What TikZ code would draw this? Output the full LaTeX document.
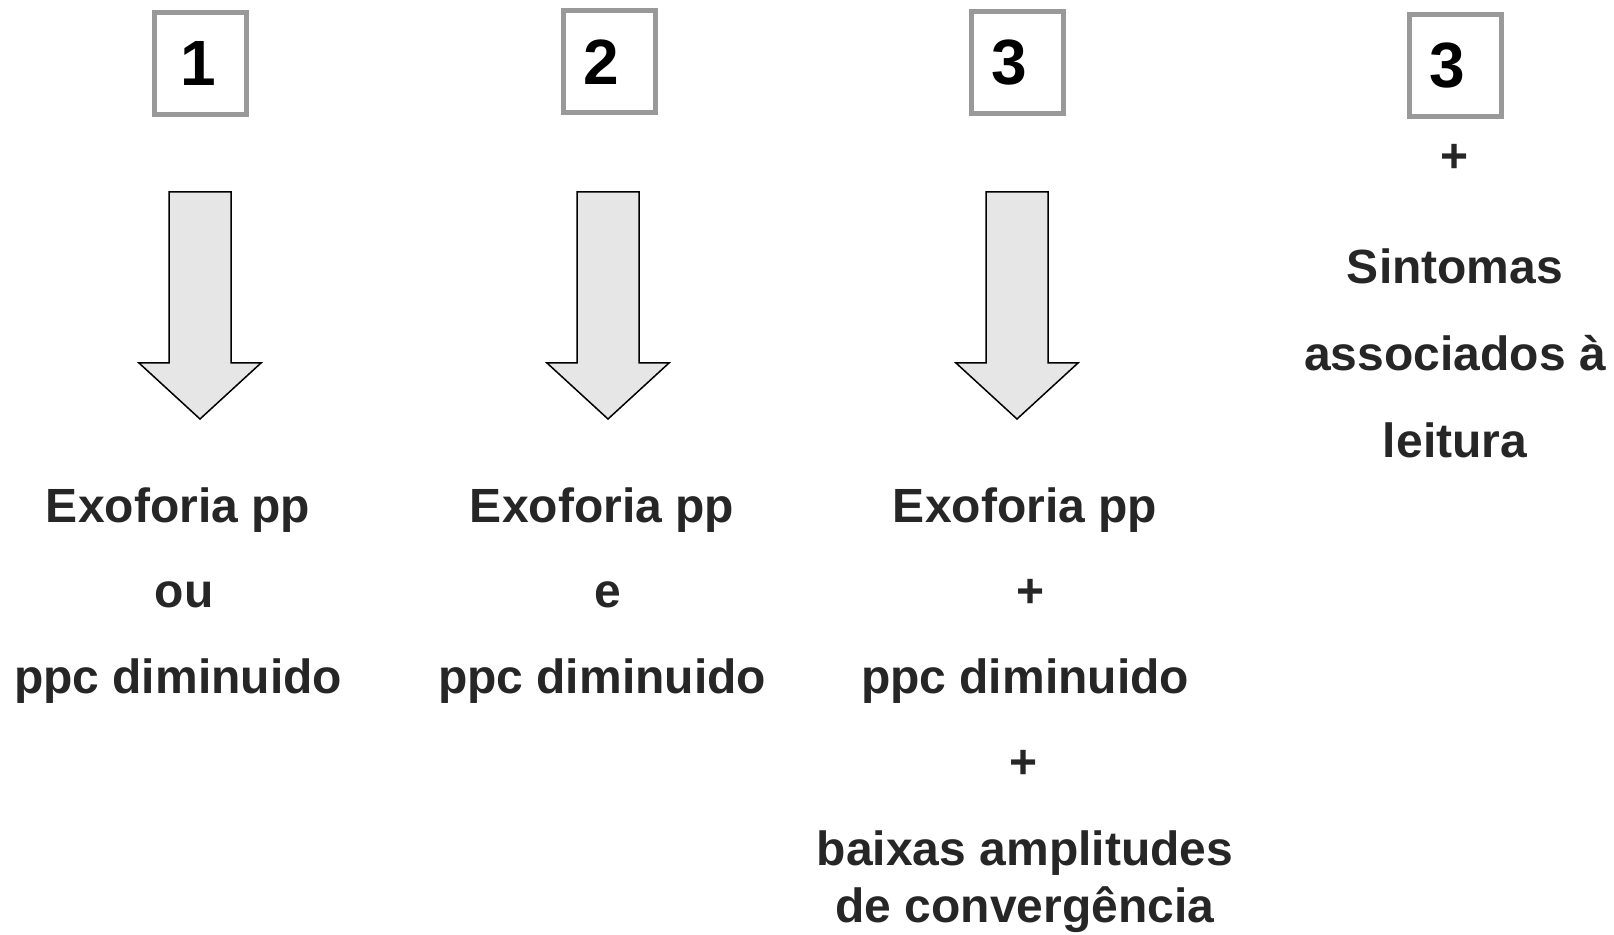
\documentclass[tikz,border=0pt]{standalone}
\usepackage{fontspec}
\setmainfont{Liberation Sans}
\definecolor{boxgray}{RGB}{153,153,153}
\definecolor{arrowfill}{RGB}{230,230,230}
\definecolor{txtgray}{RGB}{38,38,38}
\tikzset{
  numbox/.style={draw=boxgray,fill=white,line width=2.5pt,minimum width=46pt,minimum height=51pt,inner sep=0pt,font=\fontsize{32}{38}\selectfont\bfseries},
  lbl/.style={anchor=base,text=txtgray,inner sep=0pt,font=\fontsize{24}{29}\selectfont\bfseries},
  blockarrow/.style={draw=black,fill=arrowfill,line width=0.75pt,line join=miter}
}
\begin{document}
\begin{tikzpicture}[x=0.5pt,y=-0.5pt]
  \useasboundingbox (0,0) rectangle (1614,935);

  % numbered boxes
  \node[numbox] (n1) at (200.5,63.5) {\hspace*{-2pt}1};
  \node[numbox] (n2) at (609,62) {\hspace*{-8pt}2};
  \node[numbox] (n3) at (1017,62.5) {\hspace*{-8pt}3};
  \node[numbox] (n4) at (1455.5,65.5) {\hspace*{-8pt}3};

  % big arrows
  \foreach \cx in {200,608,1017}
    \draw[blockarrow] (\cx-31,192) -- (\cx+31,192) -- (\cx+31,363) -- (\cx+61,363)
      -- (\cx,419) -- (\cx-61,363) -- (\cx-31,363) -- cycle;

  % column 1
  \node[lbl] (exo1) at (178,523) {Exoforia pp};
  \node[lbl] (ou) at (184,608) {ou};
  \node[lbl] (ppc1) at (178,694) {ppc diminuido};

  % column 2
  \node[lbl] (exo2) at (602,523) {Exoforia pp};
  \node[lbl] (e) at (608,608) {e};
  \node[lbl] (ppc2) at (602,694) {ppc diminuido};

  % column 3
  \node[lbl] (exo3) at (1025,523) {Exoforia pp};
  \node[lbl] (plusa) at (1031,608) {+};
  \node[lbl] (ppc3) at (1025,694) {ppc diminuido};
  \node[lbl] (plusb) at (1024,779) {+};
  \node[lbl] (baixas) at (1025,865) {baixas amplitudes};
  \node[lbl] (conv) at (1025,922) {de convergência};

  % column 4
  \node[lbl] (plusc) at (1455,173) {+};
  \node[lbl] (sint) at (1455,284) {Sintomas};
  \node[lbl] (assoc) at (1455,371) {associados à};
  \node[lbl] (leit) at (1455,458) {leitura};
\end{tikzpicture}
\end{document}
